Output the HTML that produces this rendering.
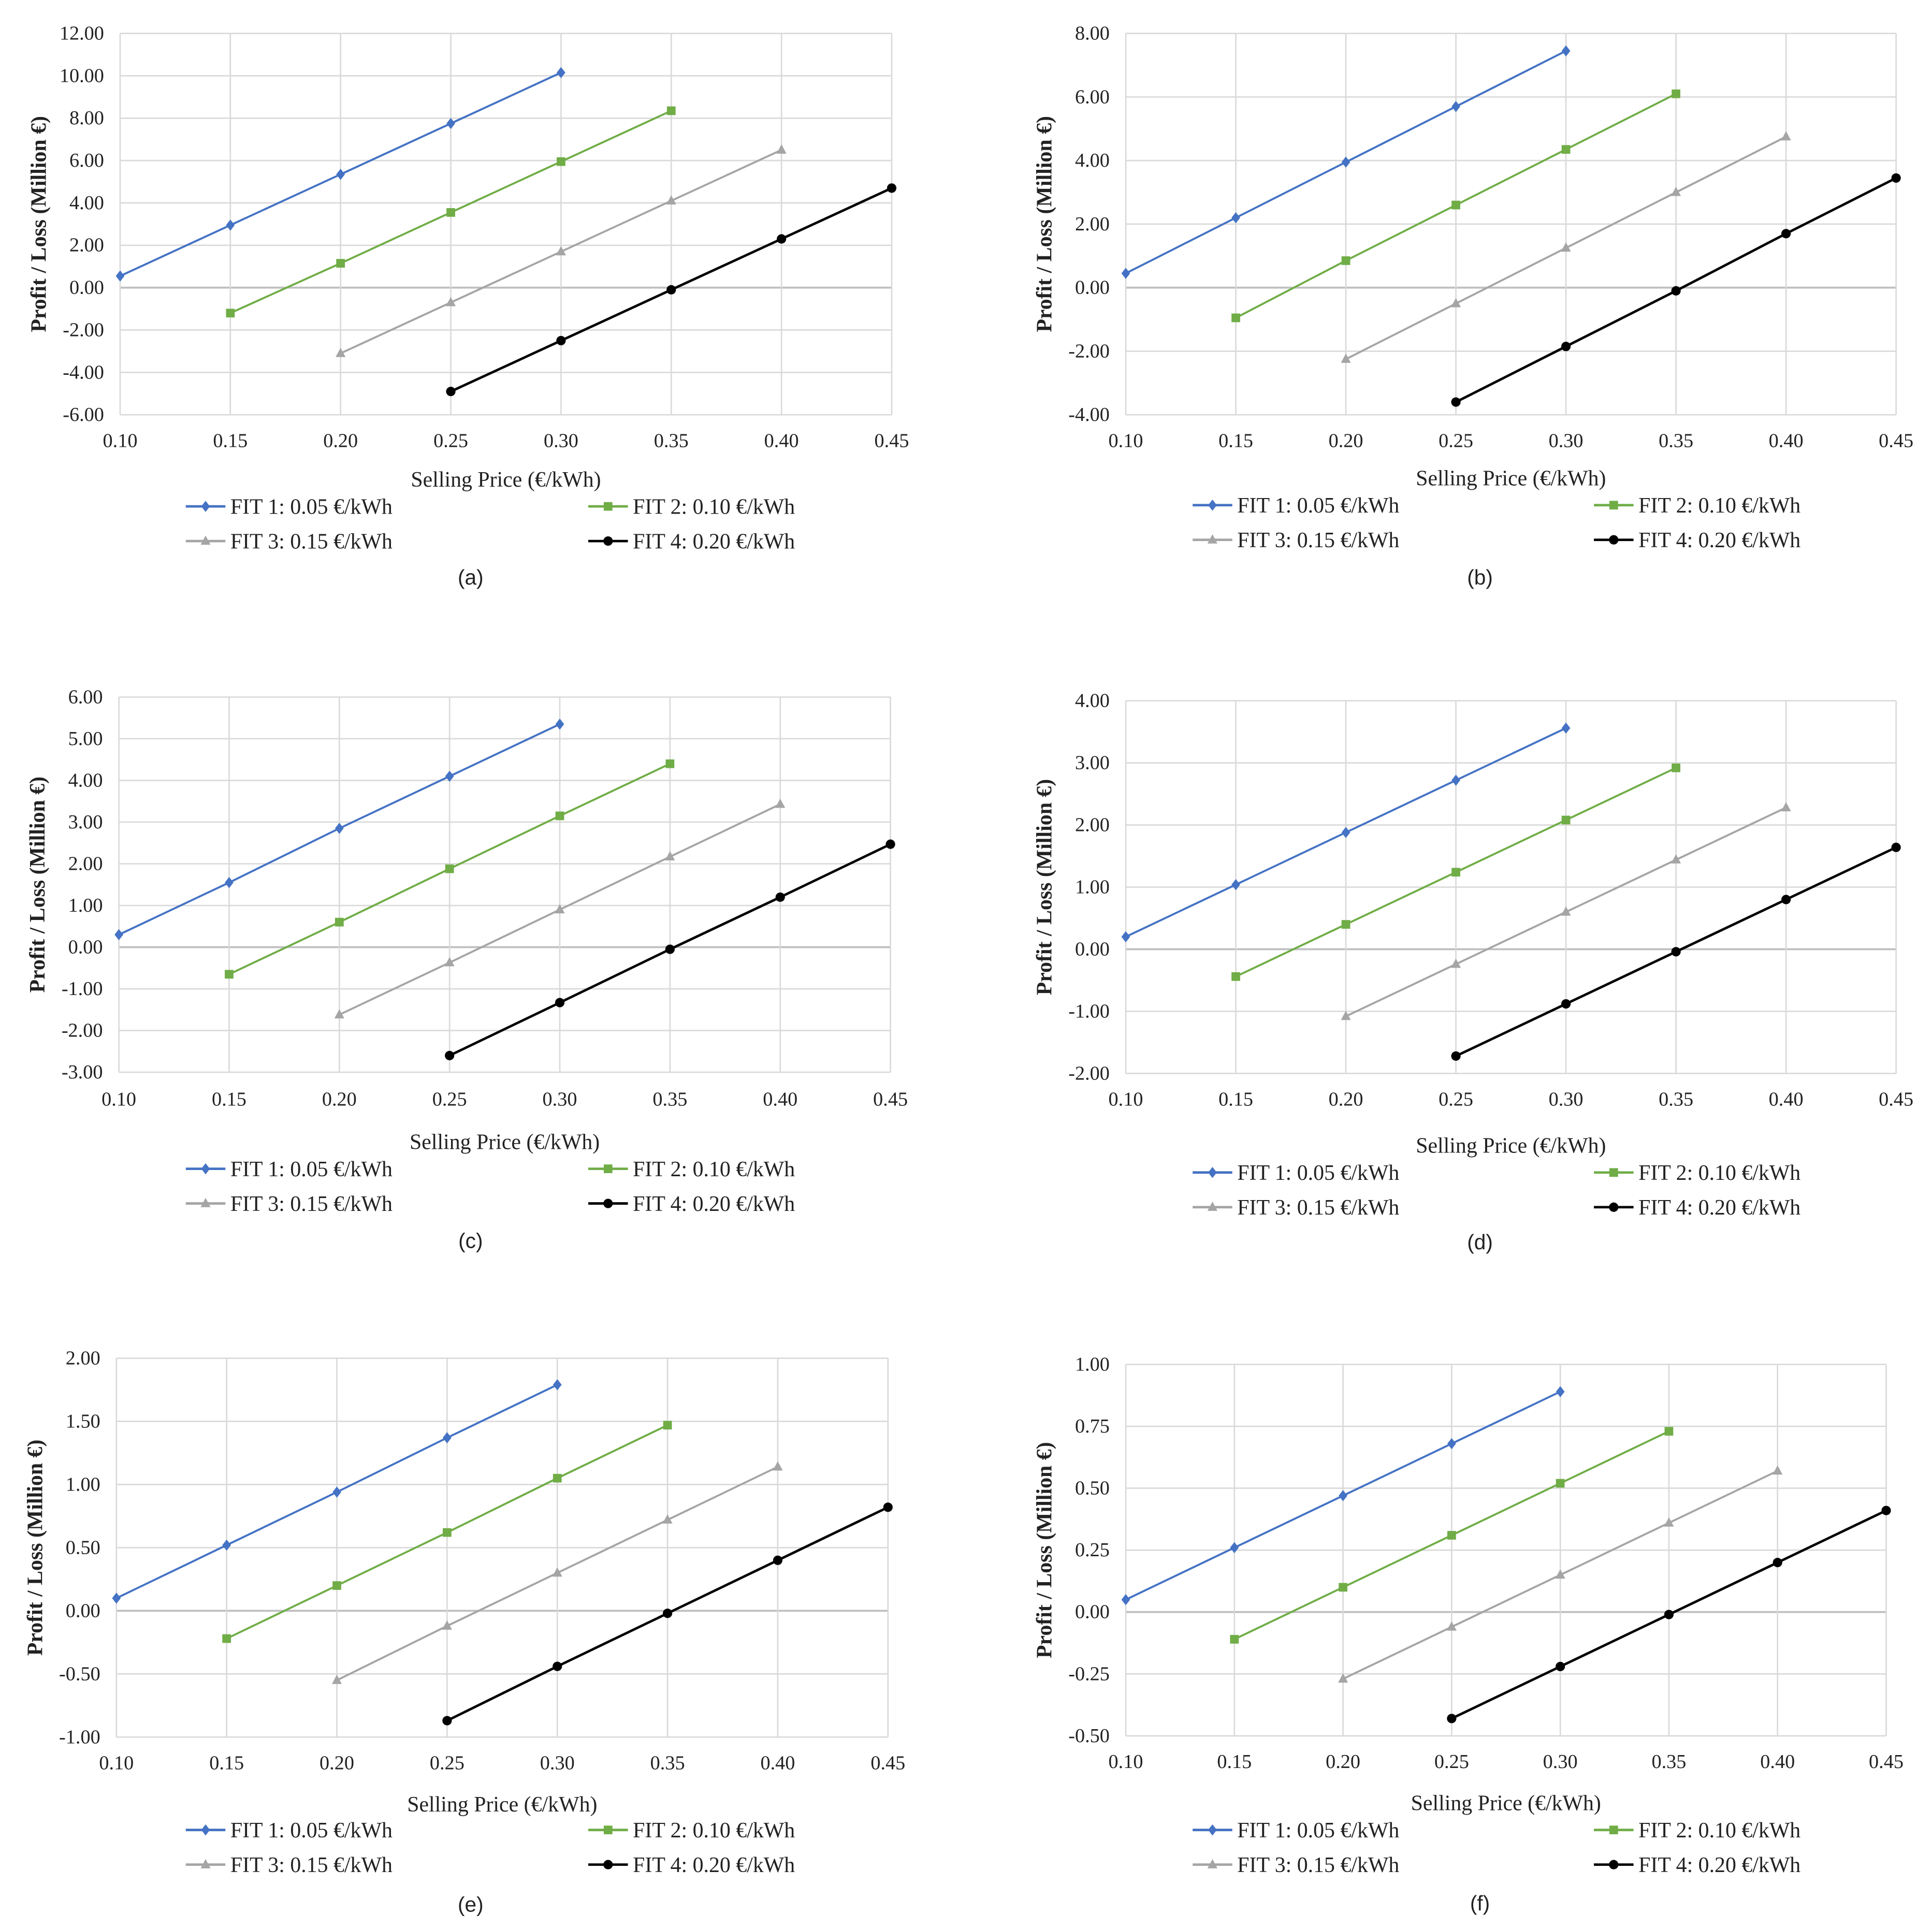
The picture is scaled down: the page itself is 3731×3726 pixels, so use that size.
<!DOCTYPE html>
<html><head><meta charset="utf-8"><style>
html,body{margin:0;padding:0;background:#fff;}
svg{display:block;}
text{font-family:"Liberation Serif",serif;fill:#222;}
.cap{font-family:"Liberation Sans",sans-serif;font-size:17px;}
</style></head><body>
<svg id="fig" width="3731" height="3726" viewBox="0 0 1560 1558" preserveAspectRatio="none" xmlns="http://www.w3.org/2000/svg"></svg>
<script>
const xCategories = [0.10,0.15,0.20,0.25,0.30,0.35,0.40,0.45];
const seriesNames = ["FIT 1: 0.05 €/kWh","FIT 2: 0.10 €/kWh","FIT 3: 0.15 €/kWh","FIT 4: 0.20 €/kWh"];
const seriesStart = [0.10,0.15,0.20,0.25];
const panelLabels = ["(a)","(b)","(c)","(d)","(e)","(f)"];
const yMins = [-6,-4,-3,-2,-1,-0.5];
const yMaxs = [12,8,6,4,2,1];
const ySteps = [2,2,1,1,0.5,0.25];
const dataA = [[0.55,2.95,5.35,7.75,10.15],[-1.2,1.15,3.55,5.95,8.35],[-3.1,-0.7,1.7,4.1,6.5],[-4.9,-2.5,-0.1,2.3,4.7]];
const dataB = [[0.45,2.2,3.95,5.7,7.45],[-0.95,0.85,2.6,4.35,6.1],[-2.25,-0.5,1.25,3.0,4.75],[-3.6,-1.85,-0.1,1.7,3.45]];
const dataC = [[0.3,1.55,2.85,4.1,5.35],[-0.65,0.6,1.88,3.15,4.4],[-1.62,-0.37,0.9,2.17,3.43],[-2.6,-1.33,-0.05,1.2,2.47]];
const dataD = [[0.2,1.04,1.88,2.72,3.56],[-0.44,0.4,1.24,2.08,2.92],[-1.08,-0.24,0.6,1.44,2.28],[-1.72,-0.88,-0.04,0.8,1.64]];
const dataE = [[0.1,0.52,0.94,1.37,1.79],[-0.22,0.2,0.62,1.05,1.47],[-0.55,-0.12,0.3,0.72,1.14],[-0.87,-0.44,-0.02,0.4,0.82]];
const dataF = [[0.05,0.26,0.47,0.68,0.89],[-0.11,0.1,0.31,0.52,0.73],[-0.27,-0.06,0.15,0.36,0.57],[-0.43,-0.22,-0.01,0.2,0.41]];
const allData = [dataA,dataB,dataC,dataD,dataE,dataF];

const colors = ["#4472C4","#70AD47","#A5A5A5","#000000"];
const layouts = [
 {l:97,r:720,t:27,b:335,tick:355,xt:387,lg:409,cap:466,cx:380,leg1:150,leg2:475},
 {l:909,r:1531,t:27,b:335,tick:355,xt:386,lg:408,cap:466,cx:1195,leg1:963,leg2:1287},
 {l:96,r:719,t:563,b:866,tick:887,xt:922,lg:944,cap:1002,cx:380,leg1:150,leg2:475},
 {l:909,r:1531,t:566,b:867,tick:887,xt:925,lg:947,cap:1003,cx:1195,leg1:963,leg2:1287},
 {l:94,r:717,t:1097,b:1403,tick:1423,xt:1457,lg:1478,cap:1538,cx:380,leg1:150,leg2:475},
 {l:909,r:1523,t:1102,b:1402,tick:1422,xt:1456,lg:1478,cap:1537,cx:1195,leg1:963,leg2:1287}
];
const NS="http://www.w3.org/2000/svg";
const svg=document.getElementById('fig');
function mk(tag,attrs,parent,txt){const e=document.createElementNS(NS,tag);for(const k in attrs)e.setAttribute(k,attrs[k]);if(txt!==undefined)e.textContent=txt;parent.appendChild(e);return e;}
function marker(g,i,x,y){
  let m;
  if(i===0){m=mk('polygon',{points:`${x},${y-4.5} ${x+3.5},${y} ${x},${y+4.5} ${x-3.5},${y}`,fill:colors[i]},g);}
  else if(i===1){m=mk('rect',{x:x-3.5,y:y-3.5,width:7,height:7,fill:colors[i]},g);}
  else if(i===2){m=mk('polygon',{points:`${x},${y-4.5} ${x+4},${y+3} ${x-4},${y+3}`,fill:colors[i]},g);}
  else {m=mk('circle',{cx:x,cy:y,r:3.8,fill:colors[i]},g);}
  return m;
}
layouts.forEach((L,p)=>{
  const g=mk('g',{},svg);
  
  
  const ymin=yMins[p],ymax=yMaxs[p],st=ySteps[p];
  const X=v=>L.l+(v-0.10)/(0.35)*(L.r-L.l);
  const Y=v=>L.b-(v-ymin)/(ymax-ymin)*(L.b-L.t);
  const n=Math.round((ymax-ymin)/st);
  for(let k=0;k<=n;k++){
    const v=ymin+k*st, y=Y(v);
    const gl=mk('line',{x1:L.l,x2:L.r,y1:y,y2:y,stroke:Math.abs(v)<1e-9?'#bfbfbf':'#d9d9d9','stroke-width':Math.abs(v)<1e-9?1.6:1.1},g);
    
    
    const t=mk('text',{x:L.l-13,y:y+5,'text-anchor':'end','font-size':16},g,v.toFixed(2));
    
    
  }
  xCategories.forEach(c=>{
    const x=X(c);
    const gl=mk('line',{x1:x,x2:x,y1:L.t,y2:L.b,stroke:'#d9d9d9','stroke-width':1.1},g);
    
    
    const t=mk('text',{x:x,y:L.tick+6,'text-anchor':'middle','font-size':16},g,c.toFixed(2));
    
    
  });
  const yt=mk('text',{x:0,y:0,'text-anchor':'middle','font-size':17.5,'font-weight':'bold',transform:`translate(${L.l-60},${(L.t+L.b)/2}) rotate(-90)`},g,'Profit / Loss (Million €)');
  
  
  const xt=mk('text',{x:(L.l+L.r)/2,y:L.xt+6,'text-anchor':'middle','font-size':17.5},g,'Selling Price (€/kWh)');
  
  
  allData[p].forEach((vals,i)=>{
    const pts=vals.map((v,j)=>[X(seriesStart[i]+j*0.05),Y(v)]);
    const pl=mk('polyline',{points:pts.map(q=>q.join(',')).join(' '),fill:'none',stroke:colors[i],'stroke-width':i===3?2:1.6},g);
    
    
    pts.forEach(q=>{const m=marker(g,i,q[0],q[1]);
      
      });
  });
  seriesNames.forEach((nm,i)=>{
    const lx=i%2===0?L.leg1:L.leg2, ly=L.lg+(i>=2?28:0);
    const lg=mk('g',{},g);
    
    
    mk('line',{x1:lx,x2:lx+32,y1:ly,y2:ly,stroke:colors[i],'stroke-width':2},lg);
    marker(lg,i,lx+16,ly);
    mk('text',{x:lx+36,y:ly+6,'font-size':17.5},lg,nm);
  });
  const cp=mk('text',{x:L.cx,y:L.cap+6,'text-anchor':'middle',class:'cap'},g,panelLabels[p]);
  
  
});
</script>
</body></html>
